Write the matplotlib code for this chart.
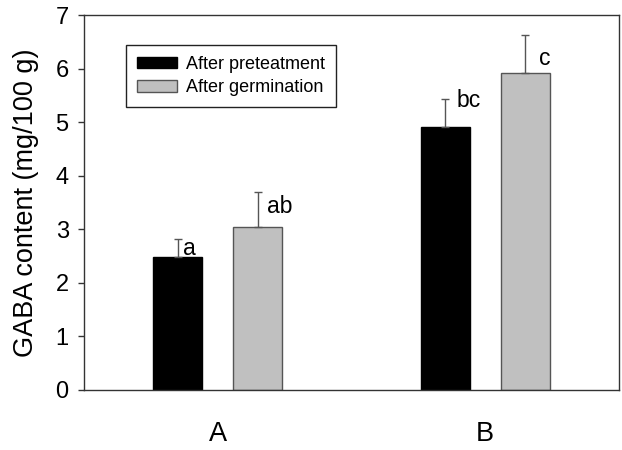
import numpy as np
import matplotlib
matplotlib.use("Agg")
import matplotlib.pyplot as plt

plt.rcParams['font.family'] = ['Liberation Sans', 'DejaVu Sans']

CATEGORIES = ["A", "B"]
SERIES = ["After preteatment", "After germination"]
PRETREAT = [2.49, 4.92]
PRETREAT_ERR = [0.33, 0.51]
GERMINATION = [3.04, 5.92]
GERMINATION_ERR = [0.66, 0.72]
LETTERS_PRE = ["a", "bc"]
LETTERS_GERM = ["ab", "c"]
LETTER_Y_PRE = [2.52, 5.28]
LETTER_Y_GERM = [3.30, 6.07]
LETTER_DX_PRE = [0.020, 0.043]
LETTER_DX_GERM = [0.034, 0.051]

fig = plt.figure(figsize=(6.22, 4.5), dpi=100)
ax = fig.add_axes([84/622, 60/450, 535/622, 374.7/450])

x = np.arange(len(CATEGORIES))
width = 0.183
off = 0.15

err_kw = dict(ecolor="#555555", elinewidth=1, capsize=3, capthick=1)
ax.bar(x - off, PRETREAT, width, color="black", edgecolor="black", linewidth=1,
       yerr=[np.zeros(2), PRETREAT_ERR], error_kw=err_kw, label=SERIES[0])
ax.bar(x + off, GERMINATION, width, color="#c0c0c0", edgecolor="#555555", linewidth=1,
       yerr=[np.zeros(2), GERMINATION_ERR], error_kw=err_kw, label=SERIES[1])

for i in range(len(CATEGORIES)):
  ax.text(x[i] - off + LETTER_DX_PRE[i], LETTER_Y_PRE[i], LETTERS_PRE[i], fontsize=16.5,
          ha="left", va="baseline")
  ax.text(x[i] + off + LETTER_DX_GERM[i], LETTER_Y_GERM[i], LETTERS_GERM[i], fontsize=16.5,
          ha="left", va="baseline")

ax.set_xlim(-0.5, 1.5)
ax.set_ylim(0, 7)
ax.set_yticks(range(8))
ax.set_xticks(x)
ax.set_xticklabels(CATEGORIES)
ax.tick_params(axis="y", direction="out", length=4, width=1, color="#333333", labelsize=17, pad=7)
ax.tick_params(axis="x", length=0, labelsize=19.5, pad=22)
for s in ax.spines.values():
  s.set_color("#333333")
  s.set_linewidth(1)
ax.set_ylabel("GABA content (mg/100 g)", fontsize=19.5, labelpad=12)

leg = ax.legend(loc="upper left", bbox_to_anchor=(42/535, (390-45)/374.7), borderaxespad=0,
                fontsize=13, fancybox=False, edgecolor="#222222", framealpha=1,
                handlelength=2.2, handleheight=0.6, handletextpad=0.55,
                labelspacing=0.35, borderpad=0.6)
leg.get_frame().set_linewidth(1)

fig.savefig("out.png", dpi=100)
